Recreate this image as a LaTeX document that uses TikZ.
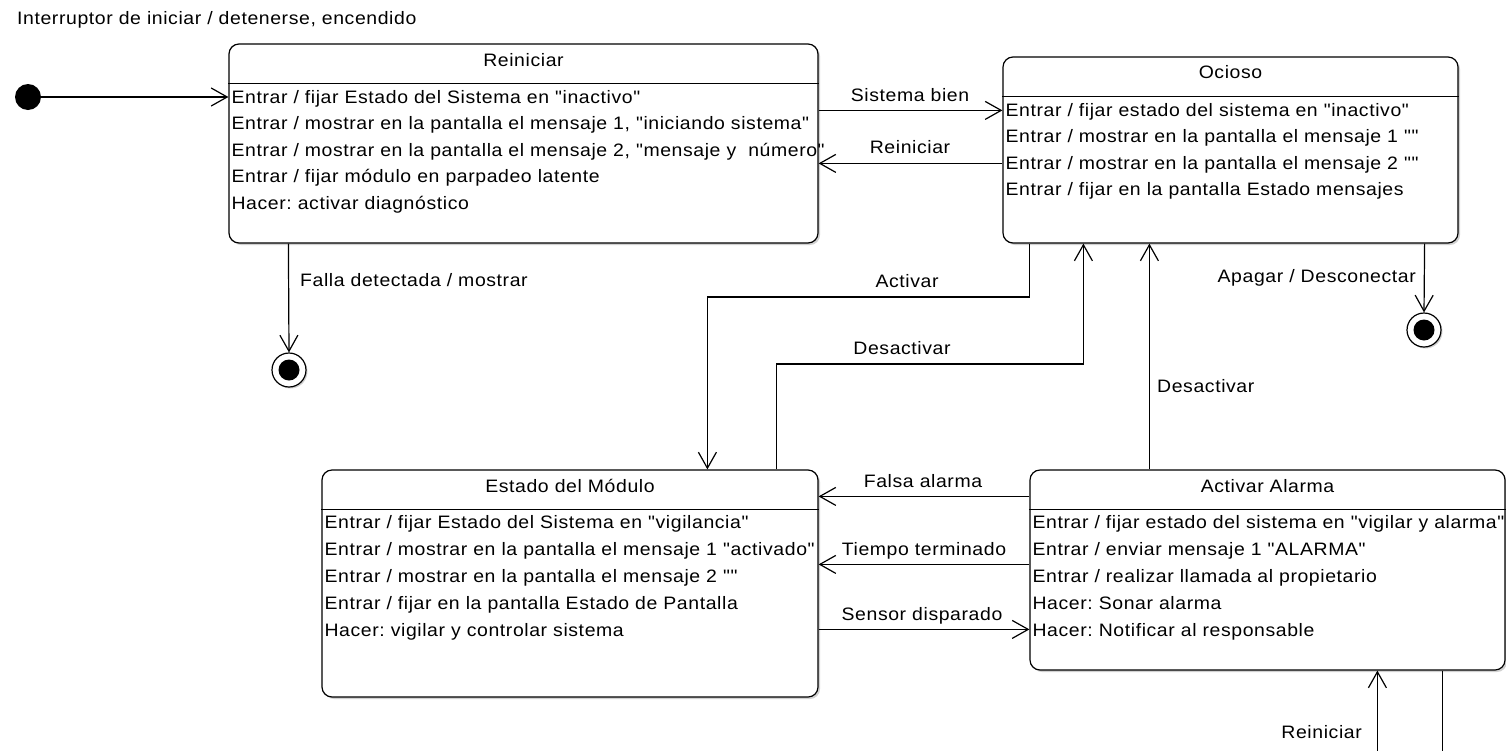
\documentclass[tikz,border=0pt]{standalone}
\usepackage{fontspec}
\setmainfont{Liberation Sans}[FakeStretch=1.08, LetterSpace=3.3, Ligatures=TeXOff]
\usetikzlibrary{arrows.meta,shadows}
\begin{document}
\frenchspacing
\begin{tikzpicture}[x=1pt,y=-1pt,
  font=\fontsize{18}{21}\selectfont,
  lw/.style={line width=1.2pt},
  state/.style={draw, lw, rounded corners=10pt, fill=white, inner sep=0pt,
    general shadow={fill=black!18, shadow xshift=2pt, shadow yshift=-2pt}},
  ln/.style={anchor=west, inner sep=0pt, text height=14pt, text depth=2pt},
  lbl/.style={inner sep=0pt, text height=14pt, text depth=2pt},
  arr/.style={lw, -{Straight Barb[length=16pt,width=18pt,line width=1.2pt]}},
  final/.style={circle, draw, lw, fill=white, minimum size=34pt, inner sep=0pt,
    general shadow={fill=black!18, shadow xshift=1.5pt, shadow yshift=-1.5pt}},
  finalin/.style={circle, fill=black, minimum size=21pt, inner sep=0pt},
]
\useasboundingbox (0,0) rectangle (1506,750);
\clip (0,0) rectangle (1506,750);

% top caption
\node[lbl, anchor=west] (cap) at (17,18) {Interruptor de iniciar / detenerse, encendido};

% initial state
\node[circle, fill=black, minimum size=26pt, inner sep=0pt] (init) at (28,97) {};

% ---------- Reiniciar ----------
\node[state, minimum width=589pt, minimum height=199pt] (rei) at (523.5,143.5) {};
\draw[lw] ([yshift=-40pt]rei.north west) -- ([yshift=-40pt]rei.north east);
\node[lbl] (reiT) at ([yshift=-17pt]rei.north) {Reiniciar};
\node[ln] (rei1) at ([xshift=3pt,yshift=-54pt]rei.north west) {Entrar / fijar Estado del Sistema en "inactivo"};
\node[ln] (rei2) at ([xshift=3pt,yshift=-80.5pt]rei.north west) {Entrar / mostrar en la pantalla el mensaje 1, "iniciando sistema"};
\node[ln] (rei3) at ([xshift=3pt,yshift=-107pt]rei.north west) {Entrar / mostrar en la pantalla el mensaje 2, "mensaje y\ \ número"};
\node[ln] (rei4) at ([xshift=3pt,yshift=-133.5pt]rei.north west) {Entrar / fijar módulo en parpadeo latente};
\node[ln] (rei5) at ([xshift=3pt,yshift=-160pt]rei.north west) {Hacer: activar diagnóstico};

% ---------- Ocioso ----------
\node[state, minimum width=455pt, minimum height=186pt] (oci) at (1230.5,150) {};
\draw[lw] ([yshift=-40pt]oci.north west) -- ([yshift=-40pt]oci.north east);
\node[lbl] (ociT) at ([yshift=-16pt]oci.north) {Ocioso};
\node[ln] (oci1) at ([xshift=3pt,yshift=-54pt]oci.north west) {Entrar / fijar estado del sistema en "inactivo"};
\node[ln] (oci2) at ([xshift=3pt,yshift=-80.5pt]oci.north west) {Entrar / mostrar en la pantalla el mensaje 1 ""};
\node[ln] (oci3) at ([xshift=3pt,yshift=-107pt]oci.north west) {Entrar / mostrar en la pantalla el mensaje 2 ""};
\node[ln] (oci4) at ([xshift=3pt,yshift=-133.5pt]oci.north west) {Entrar / fijar en la pantalla Estado mensajes};

% ---------- Estado del Modulo ----------
\node[state, minimum width=496pt, minimum height=227pt] (mod) at (570,583.5) {};
\draw[lw] ([yshift=-40pt]mod.north west) -- ([yshift=-40pt]mod.north east);
\node[lbl] (modT) at ([yshift=-17pt]mod.north) {Estado del Módulo};
\node[ln] (mod1) at ([xshift=3pt,yshift=-53pt]mod.north west) {Entrar / fijar Estado del Sistema en "vigilancia"};
\node[ln] (mod2) at ([xshift=3pt,yshift=-80pt]mod.north west) {Entrar / mostrar en la pantalla el mensaje 1 "activado"};
\node[ln] (mod3) at ([xshift=3pt,yshift=-107pt]mod.north west) {Entrar / mostrar en la pantalla el mensaje 2 ""};
\node[ln] (mod4) at ([xshift=3pt,yshift=-134pt]mod.north west) {Entrar / fijar en la pantalla Estado de Pantalla};
\node[ln] (mod5) at ([xshift=3pt,yshift=-161pt]mod.north west) {Hacer: vigilar y controlar sistema};

% ---------- Activar Alarma ----------
\node[state, minimum width=475pt, minimum height=200pt] (ala) at (1267.5,570) {};
\draw[lw] ([yshift=-40pt]ala.north west) -- ([yshift=-40pt]ala.north east);
\node[lbl] (alaT) at ([yshift=-17pt]ala.north) {Activar Alarma};
\node[ln] (ala1) at ([xshift=3pt,yshift=-53pt]ala.north west) {Entrar / fijar estado del sistema en "vigilar y alarma"};
\node[ln] (ala2) at ([xshift=3pt,yshift=-80pt]ala.north west) {Entrar / enviar mensaje 1 "ALARMA"};
\node[ln] (ala3) at ([xshift=3pt,yshift=-107pt]ala.north west) {Entrar / realizar llamada al propietario};
\node[ln] (ala4) at ([xshift=3pt,yshift=-134pt]ala.north west) {Hacer: Sonar alarma};
\node[ln] (ala5) at ([xshift=3pt,yshift=-161pt]ala.north west) {Hacer: Notificar al responsable};

% final states
\node[final] (f1) at (289,370) {};
\node[finalin] (f1in) at (f1) {};
\node[final] (f2) at (1424,330) {};
\node[finalin] (f2in) at (f2) {};

% ---------- connectors ----------
\draw[arr] (init) -- (rei.west |- init);

\draw[arr] ([yshift=-67pt]rei.north east) -- ([yshift=-54pt]oci.north west);
\node[lbl] (lSis) at (910,95) {Sistema bien};

\draw[arr] ([yshift=-107pt]oci.north west) -- ([yshift=-120pt]rei.north east);
\node[lbl] (lRei1) at (910,147) {Reiniciar};

\draw[arr] ([xshift=60pt]rei.south west) -- (f1.north);
\node[lbl, anchor=west] (lFalla) at (300,280) {Falla detectada / mostrar};

\draw[arr] ([xshift=-34pt]oci.south east) -- (f2.north);
\node[lbl, anchor=east] (lApa) at (1416,276) {Apagar / Desconectar};

% Activar
\coordinate (actA) at ([xshift=27pt]oci.south west);
\coordinate (actB) at ([xshift=386pt]mod.north west);
\coordinate (actY) at (0,297);
\draw[arr] (actA) |- (actY -| actB) -- (actB);
\node[lbl] (lAct) at (907,281) {Activar};

% Desactivar (left)
\coordinate (desA) at ([xshift=455pt]mod.north west);
\coordinate (desB) at ([xshift=81pt]oci.south west);
\coordinate (desY) at (0,364);
\draw[arr] (desA) |- (desY -| desB) -- (desB);
\node[lbl] (lDes1) at (902,348) {Desactivar};

% Desactivar (right)
\draw[arr] ([xshift=120pt]ala.north west) -- ([xshift=147pt]oci.south west);
\node[lbl, anchor=west] (lDes2) at (1157,386) {Desactivar};

% between lower states
\draw[arr] ([yshift=-27pt]ala.north west) -- ([yshift=-27pt]mod.north east);
\node[lbl] (lFal) at (923,481) {Falsa alarma};

\draw[arr] ([yshift=-95pt]ala.north west) -- ([yshift=-95pt]mod.north east);
\node[lbl] (lTie) at (924,549) {Tiempo terminado};

\draw[arr] ([yshift=-160pt]mod.north east) -- ([yshift=-160pt]ala.north west);
\node[lbl] (lSen) at (922,614) {Sensor disparado};

% self loop on Activar Alarma (continues below the visible area)
\coordinate (loopA) at ([xshift=413pt]ala.south west);
\coordinate (loopB) at ([xshift=348pt]ala.south west);
\coordinate (loopY) at (0,790);
\draw[arr] (loopA) -- (loopA |- loopY) -- (loopB |- loopY) -- (loopB);
\node[lbl, anchor=east] (lRei2) at (1362,732) {Reiniciar};
\end{tikzpicture}
\end{document}
